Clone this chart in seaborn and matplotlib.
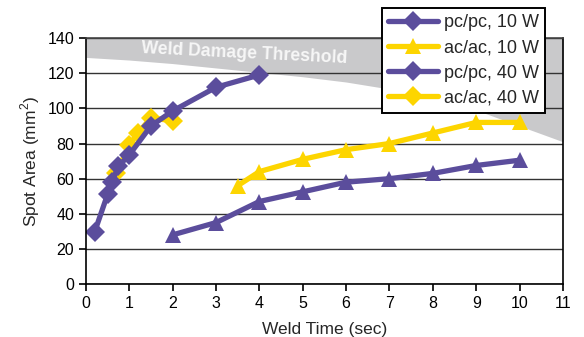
import pandas as pd
import seaborn as sns
import matplotlib.pyplot as plt
from matplotlib.lines import Line2D

# weld time (sec) / spot area (mm^2)
pc10_time = [2, 3, 4, 5, 6, 7, 8, 9, 10]
pc10_area = [28, 35, 47, 52.5, 58, 60, 63, 67.5, 70.5]
ac10_time = [3.5, 4, 5, 6, 7, 8, 9, 10]
ac10_area = [56, 64, 71, 76.5, 80, 86, 92, 92]
pc40_time = [0.2, 0.5, 0.6, 0.75, 1.0, 1.5, 2, 3, 4]
pc40_area = [29.5, 51, 58, 67, 73.5, 90, 98.5, 112, 119]
ac40_time = [0.7, 1.0, 1.2, 1.5, 2.0]
ac40_area = [63, 79, 86, 94.5, 93]

# weld damage threshold boundary
thr_time = [0, 1, 2, 3, 4, 5, 6, 7, 8, 9, 10, 11]
thr_area = [129, 127.5, 125.5, 123, 120.5, 118, 115, 111, 106, 99, 90, 81]

legend_labels = ["pc/pc, 10 W", "ac/ac, 10 W", "pc/pc, 40 W", "ac/ac, 40 W"]
legend_markers = ["D", "^", "D", "D"]

PURPLE = "#5b4d9c"
YELLOW = "#fdd500"


def make_df(t, a):
    return pd.DataFrame({"time": t, "area": a})


sns.set_style("white")
plt.rcParams["font.family"] = ["Liberation Sans", "DejaVu Sans"]
plt.rcParams["mathtext.fontset"] = "custom"
plt.rcParams["mathtext.rm"] = "Liberation Sans"

fig = plt.figure(figsize=(5.84, 3.37), dpi=100)
ax = fig.add_axes([0.147, 0.157, 0.817, 0.73])

ax.fill_between(thr_time, thr_area, 140, color="#c9c9cb", lw=0, zorder=0)
ax.text(3.66, 131.3, "Weld Damage Threshold", color="#f7f7f7", fontsize=12.7,
        fontweight="bold", rotation=-2.8, ha="center", va="center", zorder=1)

line_kw = dict(linewidth=3.8, markeredgewidth=0, estimator=None, sort=False, ax=ax)
sns.lineplot(data=make_df(ac40_time, ac40_area), x="time", y="area",
             color=YELLOW, marker="D", markersize=10, **line_kw)
sns.lineplot(data=make_df(pc40_time, pc40_area), x="time", y="area",
             color=PURPLE, marker="D", markersize=10, **line_kw)
sns.lineplot(data=make_df(ac10_time, ac10_area), x="time", y="area",
             color=YELLOW, marker="^", markersize=12, **line_kw)
sns.lineplot(data=make_df(pc10_time, pc10_area), x="time", y="area",
             color=PURPLE, marker="^", markersize=12, **line_kw)

ax.set_xlim(0, 11)
ax.set_ylim(0, 140)
ax.set_xticks(range(0, 12))
ax.set_yticks(range(0, 141, 20))
ax.set_axisbelow(True)
ax.yaxis.grid(True, color="#333333", linewidth=1)
ax.tick_params(axis="both", direction="out", length=5, width=1.2,
               colors="black", labelsize=11.5, bottom=True, left=True)
for s in ax.spines.values():
    s.set_color("black")
    s.set_linewidth(1.2)
ax.spines["top"].set_color("#444444")

ax.set_xlabel("Weld Time (sec)", fontsize=12.5, labelpad=8)
ax.set_ylabel("Spot Area (mm$^2$)", fontsize=12.5, labelpad=4)

legend_colors = [PURPLE, YELLOW, PURPLE, YELLOW]
handles = [Line2D([], [], color=c, marker=m, lw=3.8, markersize=12 if m == "^" else 10,
                  markeredgewidth=0)
           for c, m in zip(legend_colors, legend_markers)]
leg = fig.legend(handles, legend_labels, loc="upper right",
                 bbox_to_anchor=(0.934, 0.976), fontsize=13, frameon=True,
                 fancybox=False, framealpha=1, edgecolor="black",
                 handlelength=2.75, labelspacing=0.45, borderpad=0.35,
                 handletextpad=0.35, borderaxespad=0)
leg.get_frame().set_linewidth(1.4)
leg.set_zorder(5)

fig.savefig("out.png", dpi=100)
